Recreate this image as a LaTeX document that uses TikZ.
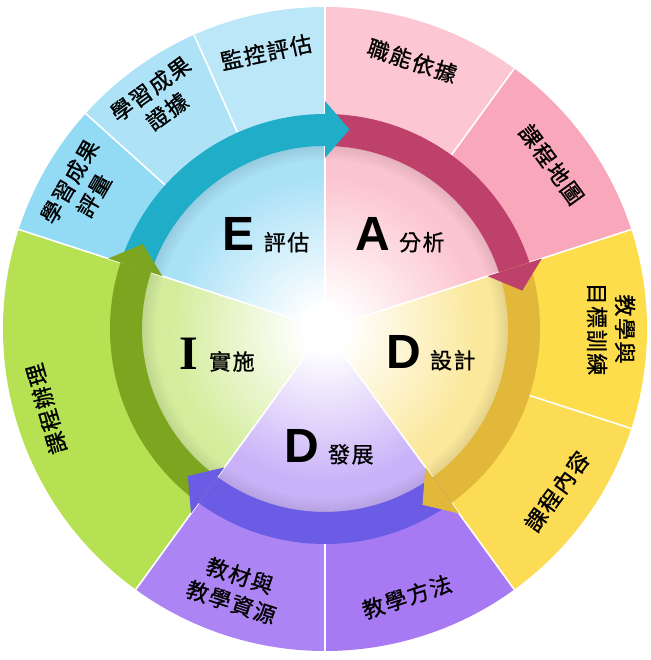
\documentclass[tikz,border=0pt]{standalone}
\usepackage{fontspec}
\setsansfont{Liberation Sans}
\newfontfamily\cjk[LetterSpace=7, FakeBold=0.9]{Noto Sans CJK TC}
\newfontfamily\serifletter{Liberation Serif}

% ring, pie and arrow colours of the five phases
\definecolor{ringEa}{HTML}{BCE7F8}
\definecolor{ringEb}{HTML}{AEE3F7}
\definecolor{ringEc}{HTML}{93DAF5}
\definecolor{pieE}{HTML}{A9E1F7}
\definecolor{arrowE}{HTML}{1FADC8}
\definecolor{ringAa}{HTML}{FCC6D2}
\definecolor{ringAb}{HTML}{F9A7BA}
\definecolor{pieA}{HTML}{FCC4D0}
\definecolor{arrowA}{HTML}{BE416B}
\definecolor{ringDa}{HTML}{FDDD4C}
\definecolor{ringDb}{HTML}{FCDB55}
\definecolor{pieD}{HTML}{FBE89B}
\definecolor{arrowD}{HTML}{E2B83A}
\definecolor{ringVa}{HTML}{A779F3}
\definecolor{ringVb}{HTML}{AD84F3}
\definecolor{pieV}{HTML}{C9B2F8}
\definecolor{arrowV}{HTML}{6B5CE6}
\definecolor{ringI}{HTML}{B6E152}
\definecolor{pieI}{HTML}{D4ED9D}
\definecolor{arrowI}{HTML}{7EA520}

\colorlet{pietint}{pieE}
\pgfdeclareradialshading[pietint]{pieshade}{\pgfpoint{0bp}{0bp}}{color(0bp)=(white); color(3bp)=(white); color(21bp)=(pietint); color(23bp)=(pietint); color(25bp)=(pietint!90!black); color(50bp)=(pietint!90!black)}

\newcommand\bigletter{\sffamily\bfseries\fontsize{48}{48}\selectfont}
\newcommand\phasefont{\cjk\mdseries\fontsize{22}{22}\selectfont}

\tikzset{
  ringlabel/.style={font=\cjk\fontsize{22}{28}\selectfont, align=center, inner sep=0pt},
  phaselabel/.style={inner sep=0pt},
  divider/.style={white, line width=1.6pt}
}

\begin{document}
\begin{tikzpicture}[x=1pt,y=1pt]
  \useasboundingbox (-325,-331) rectangle (325,329);

  % outer ring segments
  \foreach \from/\to/\col in {90/114/ringEa, 114/138/ringEb, 138/162/ringEc,
                              54/90/ringAa, 18/54/ringAb,
                              -18/18/ringDa, -54/-18/ringDb,
                              -90/-54/ringVa, -126/-90/ringVb, 162/234/ringI}
    \fill[\col] (0,0) -- (\from:322) arc[start angle=\from, end angle=\to, radius=322] -- cycle;

  % inner pie, white in the middle
  \foreach \from/\to/\col in {90/162/pieE, 18/90/pieA, -54/18/pieD, -126/-54/pieV, 162/234/pieI} {
    \begin{scope}
      \clip (0,0) -- (\from:200) arc[start angle=\from, end angle=\to, radius=200] -- cycle;
      \colorlet{pietint}{\col}
      \shade[shading=pieshade] (0,0) circle[radius=183];
    \end{scope}
  }

  % white dividers
  \foreach \ang in {162,90,18,-54,-126}
    \draw[divider] (0,0) -- (\ang:322);
  \foreach \ang in {138,114,54,-18,-90}
    \draw[divider] (\ang:215) -- (\ang:322);

  % arrow bands, clockwise
  \foreach \from/\to/\col in {162/90/arrowE, 90/18/arrowA, 18/-54/arrowD, -54/-126/arrowV, -126/-198/arrowI}
    \fill[\col] (\from:215) arc[start angle=\from, end angle=\to, radius=215]
      -- (\to:183) arc[start angle=\to, end angle=\from, radius=183] -- cycle;

  % arrow heads on top of the next band
  \foreach \to/\col in {90/arrowE, 18/arrowA, -54/arrowD, -126/arrowV, -198/arrowI}
    \fill[\col] (\to:171) -- (\to:228) -- ({\to-7}:201) -- cycle;

  % phase names
  \node[phaselabel] (evaluate) at (-59,94) {\bigletter E\hspace{9pt}\phasefont 評估};
  \node[phaselabel] (analyse) at (75,94) {\bigletter A\hspace{9pt}\phasefont 分析};
  \node[phaselabel] (design) at (106,-24) {\bigletter D\hspace{9pt}\phasefont 設計};
  \node[phaselabel] (develop) at (4,-118) {\bigletter D\hspace{9pt}\phasefont 發展};
  \node[phaselabel] (implement) at (-108,-26) {{\serifletter\bfseries\fontsize{48}{48}\selectfont I}\hspace{11pt}\phasefont 實施};

  % ring labels
  \node[ringlabel, rotate=12] (monitor) at (102:283) {監控評估};
  \node[ringlabel, rotate=36] (evidence) at (126:283) {學習成果\\證據};
  \node[ringlabel, rotate=60] (assess) at (150:281) {學習成果\\評量};
  \node[ringlabel, rotate=-18] (competency) at (72:282) {職能依據};
  \node[ringlabel, rotate=-54] (coursemap) at (36:280) {課程地圖};
  \node[ringlabel, rotate=-90] (objectives) at (0:286) {教學與\\目標訓練};
  \node[ringlabel, rotate=54] (content) at (-35:283) {課程內容};
  \node[ringlabel, rotate=18] (methods) at (-73:280) {教學方法};
  \node[ringlabel, rotate=-18] (materials) at (-109:275) {教材與\\教學資源};
  \node[ringlabel, rotate=106] (delivery) at (196:290) {課程辦理};
\end{tikzpicture}
\end{document}
